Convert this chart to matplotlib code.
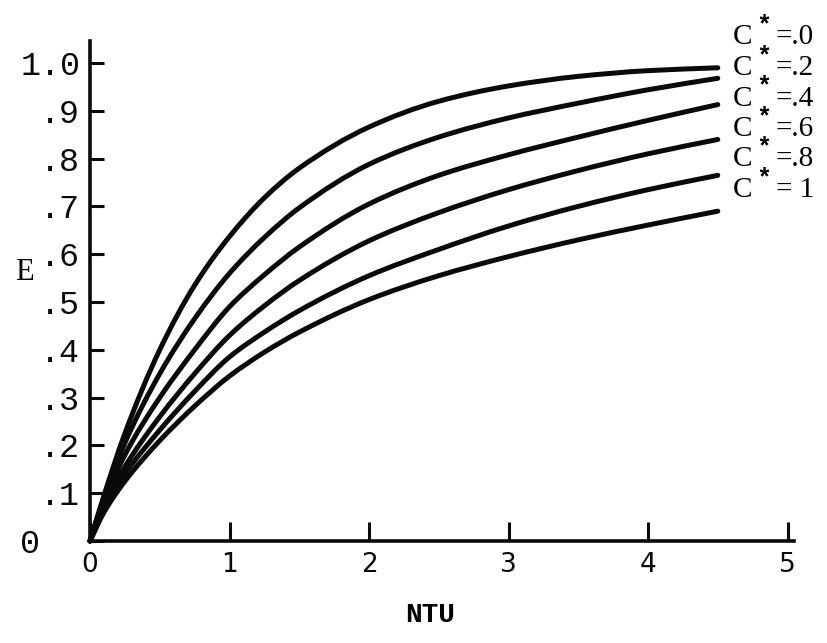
import matplotlib
matplotlib.use("Agg")
import matplotlib.pyplot as plt
from matplotlib.path import Path
from matplotlib.patches import PathPatch

# ---- data ----
ntu = [0, 0.1, 0.25, 0.5, 0.75, 1.0, 1.25, 1.5, 2.0, 2.5, 3.0, 3.5, 4.0, 4.5]
e_c00 = [0, 0.095, 0.225, 0.400, 0.535, 0.637, 0.718, 0.780, 0.866, 0.920, 0.952, 0.972, 0.984, 0.990]
e_c02 = [0, 0.090, 0.205, 0.350, 0.465, 0.560, 0.635, 0.697, 0.788, 0.845, 0.885, 0.916, 0.944, 0.968]
e_c04 = [0, 0.080, 0.180, 0.300, 0.400, 0.490, 0.557, 0.615, 0.705, 0.765, 0.808, 0.845, 0.880, 0.913]
e_c06 = [0, 0.072, 0.155, 0.260, 0.350, 0.430, 0.492, 0.545, 0.628, 0.687, 0.735, 0.775, 0.810, 0.840]
e_c08 = [0, 0.066, 0.140, 0.232, 0.313, 0.385, 0.437, 0.482, 0.555, 0.610, 0.659, 0.700, 0.735, 0.765]
e_c10 = [0, 0.060, 0.125, 0.210, 0.282, 0.345, 0.395, 0.437, 0.505, 0.555, 0.595, 0.630, 0.661, 0.690]
series = [e_c00, e_c02, e_c04, e_c06, e_c08, e_c10]
curve_labels = ["=.0", "=.2", "=.4", "=.6", "=.8", "= 1"]

xticks = [0, 1, 2, 3, 4, 5]
xtick_labels = ["0", "1", "2", "3", "4", "5"]
yticks = [0, 0.1, 0.2, 0.3, 0.4, 0.5, 0.6, 0.7, 0.8, 0.9, 1.0]
ytick_labels = ["0  ", ".1", ".2", ".3", ".4", ".5", ".6", ".7", ".8", ".9", "1.0"]


def smooth_path(xs, ys):
    """Monotone cubic (PCHIP-style) curve through the points, as Bezier segments."""
    n = len(xs)
    h = [xs[i + 1] - xs[i] for i in range(n - 1)]
    d = [(ys[i + 1] - ys[i]) / h[i] for i in range(n - 1)]
    m = [0.0] * n
    m[0] = d[0]
    m[-1] = d[-1]
    for i in range(1, n - 1):
        if d[i - 1] * d[i] <= 0:
            m[i] = 0.0
        else:
            w1 = 2 * h[i] + h[i - 1]
            w2 = h[i] + 2 * h[i - 1]
            m[i] = (w1 + w2) / (w1 / d[i - 1] + w2 / d[i])
    verts = [(xs[0], ys[0])]
    codes = [Path.MOVETO]
    for i in range(n - 1):
        verts += [(xs[i] + h[i] / 3, ys[i] + m[i] * h[i] / 3),
                  (xs[i + 1] - h[i] / 3, ys[i + 1] - m[i + 1] * h[i] / 3),
                  (xs[i + 1], ys[i + 1])]
        codes += [Path.CURVE4] * 3
    return Path(verts, codes)


W, H = 828, 643
fig = plt.figure(figsize=(W / 100, H / 100), dpi=100)
fig.patch.set_facecolor("white")
ax = fig.add_axes([90 / W, 102 / H, 704.5 / W, (1.045 * 478) / H])

for ys in series:
    patch = PathPatch(smooth_path(ntu, ys), facecolor="none", edgecolor="#0a0a0a",
                      lw=3.6, capstyle="round", joinstyle="round",
                      transform=ax.transData, clip_on=False)
    ax.add_patch(patch)

ax.set_xlim(0, 5.05)
ax.set_ylim(0, 1.045)
for s in ("top", "right"):
    ax.spines[s].set_visible(False)
for s in ("left", "bottom"):
    ax.spines[s].set_linewidth(2.6)
    ax.spines[s].set_color("#0a0a0a")

ax.set_xticks(xticks)
ax.set_xticklabels(xtick_labels, family=["Liberation Sans Narrow", "DejaVu Sans"],
                   fontsize=19)
ax.set_yticks(yticks)
ax.set_yticklabels(ytick_labels, family=["Liberation Mono", "DejaVu Sans Mono"],
                   fontsize=24)
ax.tick_params(axis="x", direction="in", length=14, width=2.2, pad=8, colors="#0a0a0a")
ax.tick_params(axis="y", direction="in", length=10, width=2.2, pad=7, colors="#0a0a0a")

# axis titles
fig.text(24 / W, 1 - 272 / H, "E", family=["Liberation Serif", "DejaVu Serif"],
         fontsize=22, ha="center", va="center")
fig.text(430 / W, 1 - 615 / H, "NTU", family=["Liberation Mono", "DejaVu Sans Mono"],
         fontsize=20, fontweight="bold", ha="center", va="center")

# curve labels
label_y = [37, 68, 98.5, 129, 159.5, 190]
for lab, yp in zip(curve_labels, label_y):
    fig.text(733 / W, 1 - yp / H, "C", family=["Liberation Serif", "DejaVu Serif"],
             fontsize=21, ha="left", va="center")
    fig.text(764 / W, 1 - (yp - 12) / H, "*", family=["Liberation Mono", "DejaVu Sans Mono"],
             fontsize=18, fontweight="bold", ha="center", va="center")
    fig.text(776 / W, 1 - yp / H, lab, family=["Liberation Serif", "DejaVu Serif"],
             fontsize=21, ha="left", va="center")

fig.savefig("out.png", dpi=100, facecolor="white")
